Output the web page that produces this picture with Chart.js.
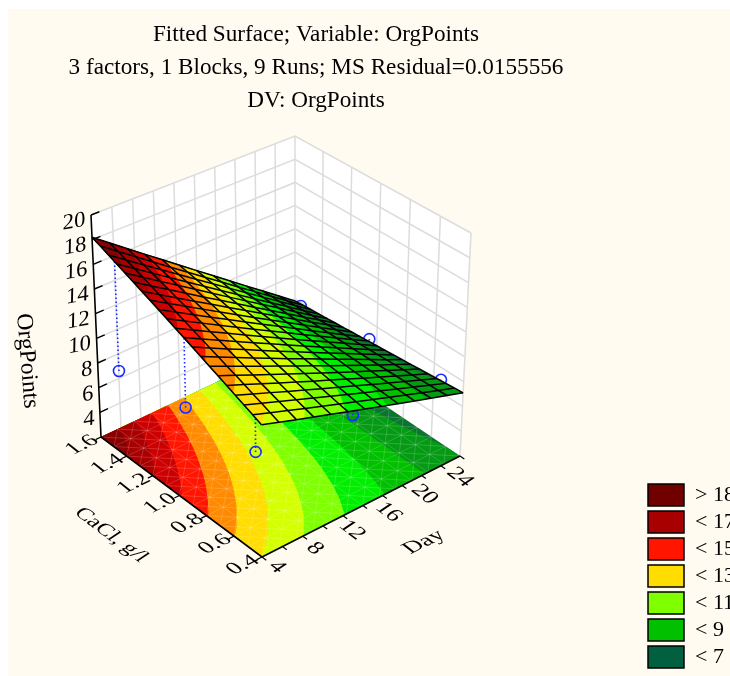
<!DOCTYPE html>
<html>
<head>
<meta charset="utf-8">
<title>Fitted Surface</title>
<script src="https://cdn.jsdelivr.net/npm/chart.js@4"></script>
<style>
    html, body { margin: 0; padding: 0; background: #fff; }
    canvas { display: block; }
</style>
</head>
<body>
<canvas id="surfaceChart" width="730" height="676"></canvas>
<script>
const titleLines = ['Fitted Surface; Variable: OrgPoints', '3 factors, 1 Blocks, 9 Runs; MS Residual=0.0155556', 'DV: OrgPoints'];

const dayValues = [4, 5.667, 7.333, 9, 10.667, 12.333, 14, 15.667, 17.333, 19, 20.667, 22.333, 24];
const caclValues = [0.4, 0.46, 0.52, 0.58, 0.64, 0.7, 0.76, 0.82, 0.88, 0.94, 1.0, 1.06, 1.12, 1.18, 1.24, 1.3, 1.36, 1.42, 1.48, 1.54, 1.6];

// one row per CaCl value, one column per Day value
const surfaceValues = [
    [12.00, 11.59, 11.18, 10.78, 10.37, 9.96, 9.55, 9.14, 8.73, 8.33, 7.92, 7.51, 7.10],
    [12.31, 11.87, 11.43, 10.99, 10.55, 10.11, 9.67, 9.23, 8.79, 8.35, 7.91, 7.47, 7.04],
    [12.62, 12.15, 11.68, 11.21, 10.74, 10.27, 9.80, 9.32, 8.85, 8.38, 7.91, 7.44, 6.97],
    [12.93, 12.43, 11.93, 11.42, 10.92, 10.42, 9.92, 9.42, 8.91, 8.41, 7.91, 7.41, 6.91],
    [13.24, 12.71, 12.17, 11.64, 11.11, 10.57, 10.04, 9.51, 8.97, 8.44, 7.91, 7.37, 6.84],
    [13.55, 12.99, 12.42, 11.86, 11.29, 10.73, 10.16, 9.60, 9.03, 8.47, 7.90, 7.34, 6.78],
    [13.86, 13.26, 12.67, 12.07, 11.48, 10.88, 10.29, 9.69, 9.09, 8.50, 7.90, 7.31, 6.71],
    [14.17, 13.54, 12.92, 12.29, 11.66, 11.03, 10.41, 9.78, 9.15, 8.53, 7.90, 7.27, 6.65],
    [14.48, 13.82, 13.16, 12.51, 11.85, 11.19, 10.53, 9.87, 9.21, 8.56, 7.90, 7.24, 6.58],
    [14.79, 14.10, 13.41, 12.72, 12.03, 11.34, 10.65, 9.96, 9.27, 8.58, 7.89, 7.21, 6.52],
    [15.10, 14.38, 13.66, 12.94, 12.22, 11.50, 10.78, 10.05, 9.33, 8.61, 7.89, 7.17, 6.45],
    [15.41, 14.66, 13.91, 13.15, 12.40, 11.65, 10.90, 10.15, 9.39, 8.64, 7.89, 7.14, 6.39],
    [15.72, 14.94, 14.15, 13.37, 12.59, 11.80, 11.02, 10.24, 9.45, 8.67, 7.89, 7.10, 6.32],
    [16.03, 15.22, 14.40, 13.59, 12.77, 11.96, 11.14, 10.33, 9.51, 8.70, 7.88, 7.07, 6.26],
    [16.34, 15.49, 14.65, 13.80, 12.96, 12.11, 11.27, 10.42, 9.57, 8.73, 7.88, 7.04, 6.19],
    [16.65, 15.77, 14.90, 14.02, 13.14, 12.27, 11.39, 10.51, 9.63, 8.76, 7.88, 7.00, 6.13],
    [16.96, 16.05, 15.14, 14.24, 13.33, 12.42, 11.51, 10.60, 9.69, 8.79, 7.88, 6.97, 6.06],
    [17.27, 16.33, 15.39, 14.45, 13.51, 12.57, 11.63, 10.69, 9.75, 8.81, 7.87, 6.93, 6.00],
    [17.58, 16.61, 15.64, 14.67, 13.70, 12.73, 11.76, 10.78, 9.81, 8.84, 7.87, 6.90, 5.93],
    [17.89, 16.89, 15.89, 14.88, 13.88, 12.88, 11.88, 10.88, 9.87, 8.87, 7.87, 6.87, 5.87],
    [18.20, 17.17, 16.13, 15.10, 14.07, 13.03, 12.00, 10.97, 9.93, 8.90, 7.87, 6.83, 5.80]
];

// observed runs
const runDay = [4.8, 4.8, 4.8, 14.3, 14, 14, 23.2, 23.2, 23.2];
const runCacl = [1.5, 1.0, 0.5, 0.5, 1.0, 1.5, 0.5, 1.0, 1.5];
const runValue = [7.8, 8.6, 8.9, 8.2, 8.0, 8.0, 7.7, 7.3, 6.4];
const runFitted = [17.1, 14.7, 12.2, 9.3, 9.7, 10.0, 7.05, 6.75, 6.3];

const zTicks = [4, 6, 8, 10, 12, 14, 16, 18, 20];
const dayTicks = [4, 6, 8, 10, 12, 14, 16, 18, 20, 22, 24];
const dayLabels = [4, 8, 12, 16, 20, 24];
const caclTicks = [0.4, 0.6, 0.8, 1.0, 1.2, 1.4, 1.6];

const bandLevels = [7, 8, 9, 10, 11, 12, 13, 14, 15, 16, 17, 18];
const bandColors = ['#0b7530', '#049a14', '#00c000', '#00ee00', '#7fff00', '#d4ff00', '#ffdd00', '#ff8a00', '#ff1500', '#cc0000', '#a80000', '#8a0000', '#700000'];

const legendLabels = ['> 18', '< 17', '< 15', '< 13', '< 11', '< 9', '< 7'];
const legendColors = ['#700000', '#a80000', '#ff1500', '#ffdd00', '#7fff00', '#00c000', '#006040'];

const Z_FLOOR = 2;
const Z_TOP = 20;
const SERIF = '"Liberation Serif", "Times New Roman", serif';

// box corners on the page, order: (day min, cacl min), (day max, cacl min), (day max, cacl max), (day min, cacl max)
const floorCorners = [[262, 557], [460, 456], [295, 345], [101, 437]];
const topCorners = [[261, 319], [471, 233], [295, 136], [91, 215]];

function planeMap(c) {
    const dx1 = c[1][0] - c[2][0], dx2 = c[3][0] - c[2][0], sx = c[0][0] - c[1][0] + c[2][0] - c[3][0];
    const dy1 = c[1][1] - c[2][1], dy2 = c[3][1] - c[2][1], sy = c[0][1] - c[1][1] + c[2][1] - c[3][1];
    const det = dx1 * dy2 - dx2 * dy1;
    const g = (sx * dy2 - dx2 * sy) / det;
    const h = (dx1 * sy - sx * dy1) / det;
    const a = c[1][0] - c[0][0] + g * c[1][0], b = c[3][0] - c[0][0] + h * c[3][0];
    const d = c[1][1] - c[0][1] + g * c[1][1], e = c[3][1] - c[0][1] + h * c[3][1];
    return function (u, v) {
        const w = g * u + h * v + 1;
        return [(a * u + b * v + c[0][0]) / w, (d * u + e * v + c[0][1]) / w];
    };
}

const floorMap = planeMap(floorCorners);
const topMap = planeMap(topCorners);

function project(day, cacl, z) {
    const u = (day - 4) / 20;
    const v = (cacl - 0.4) / 1.2;
    const t = (z - Z_FLOOR) / (Z_TOP - Z_FLOOR);
    const lo = floorMap(u, v);
    const hi = topMap(u, v);
    return { x: lo[0] + (hi[0] - lo[0]) * t, y: lo[1] + (hi[1] - lo[1]) * t };
}

const layers = [];

function addShape(points, color) {
    const closed = points.concat([points[0]]);
    layers.push({ data: closed, showLine: true, fill: 'shape', backgroundColor: color, borderWidth: 0, pointRadius: 0, tension: 0 });
}

function addLine(points, color, width, dash) {
    layers.push({ data: points, showLine: true, fill: false, borderColor: color, borderWidth: width, borderDash: dash || [], pointRadius: 0, tension: 0 });
}

// region of the surface at or above a level, day falls off monotonically along each row
function levelRegion(level, heightAt) {
    const last = dayValues.length - 1;
    const edge = [];
    let firstRow = -1;
    for (let j = 0; j < caclValues.length; j++) {
        const row = surfaceValues[j];
        if (row[0] < level) continue;
        if (firstRow < 0) {
            firstRow = j;
            if (j > 0) {
                const prev = surfaceValues[j - 1][0];
                const c = caclValues[j - 1] + (caclValues[j] - caclValues[j - 1]) * (level - prev) / (row[0] - prev);
                edge.push(project(4, c, heightAt(level)));
            }
        }
        let i = 0;
        while (i < last && row[i + 1] >= level) i++;
        if (i === last) {
            edge.push(project(dayValues[last], caclValues[j], heightAt(row[last])));
        } else {
            const d = dayValues[i] + (dayValues[i + 1] - dayValues[i]) * (row[i] - level) / (row[i] - row[i + 1]);
            edge.push(project(d, caclValues[j], heightAt(level)));
        }
    }
    if (firstRow < 0) return null;
    for (let j = caclValues.length - 1; j >= firstRow; j--) {
        edge.push(project(dayValues[0], caclValues[j], heightAt(surfaceValues[j][0])));
    }
    return edge;
}

function addBands(heightAt) {
    const last = dayValues.length - 1;
    const s = surfaceValues;
    const n = caclValues.length - 1;
    addShape([
        project(dayValues[0], caclValues[0], heightAt(s[0][0])),
        project(dayValues[last], caclValues[0], heightAt(s[0][last])),
        project(dayValues[last], caclValues[n], heightAt(s[n][last])),
        project(dayValues[0], caclValues[n], heightAt(s[n][0]))
    ], bandColors[0]);
    bandLevels.forEach((level, k) => {
        const region = levelRegion(level, heightAt);
        if (region) addShape(region, bandColors[k + 1]);
    });
}

// walls
const wallGrid = '#dcdcdc';
addShape([project(4, 1.6, Z_FLOOR), project(24, 1.6, Z_FLOOR), project(24, 1.6, Z_TOP), project(4, 1.6, Z_TOP)], '#ffffff');
addShape([project(24, 1.6, Z_FLOOR), project(24, 0.4, Z_FLOOR), project(24, 0.4, Z_TOP), project(24, 1.6, Z_TOP)], '#ffffff');
zTicks.forEach(z => addLine([project(4, 1.6, z), project(24, 1.6, z), project(24, 0.4, z)], wallGrid, 1.5));
dayTicks.slice(1).forEach(d => addLine([project(d, 1.6, Z_FLOOR), project(d, 1.6, Z_TOP)], wallGrid, 1.5));
caclTicks.slice(0, -1).forEach(c => addLine([project(24, c, Z_FLOOR), project(24, c, Z_TOP)], wallGrid, 1.5));

// floor with the contour bands
addBands(() => Z_FLOOR);

// faint triangulation on the floor
const FLOOR_CELLS = 12;
const floorPoint = (i, j) => project(4 + 20 * i / FLOOR_CELLS, 0.4 + 1.2 * j / FLOOR_CELLS, Z_FLOOR);
const seam = 'rgba(255,255,255,0.17)';
for (let k = 1; k < FLOOR_CELLS; k++) {
    addLine([floorPoint(k, 0), floorPoint(k, FLOOR_CELLS)], seam, 1);
    addLine([floorPoint(0, k), floorPoint(FLOOR_CELLS, k)], seam, 1);
}
for (let k = 1 - FLOOR_CELLS; k < FLOOR_CELLS; k++) {
    addLine([floorPoint(Math.max(k, 0), Math.max(-k, 0)), floorPoint(Math.min(FLOOR_CELLS + k, FLOOR_CELLS), Math.min(FLOOR_CELLS - k, FLOOR_CELLS))], seam, 1);
    const s = k + FLOOR_CELLS;
    addLine([floorPoint(Math.min(s, FLOOR_CELLS), Math.max(s - FLOOR_CELLS, 0)), floorPoint(Math.max(s - FLOOR_CELLS, 0), Math.min(s, FLOOR_CELLS))], seam, 1);
}

// axes
const axisBlack = '#000000';
addLine([project(4, 1.6, Z_TOP), project(4, 1.6, Z_FLOOR), project(4, 0.4, Z_FLOOR), project(24, 0.4, Z_FLOOR)], axisBlack, 1.6);
zTicks.forEach(z => addLine([project(4, 1.6, z), project(4.8, 1.6, z)], axisBlack, 1.4));
dayTicks.forEach(d => addLine([project(d, 0.4, Z_FLOOR), project(d, 0.37, Z_FLOOR)], axisBlack, 1.2));
caclTicks.forEach(c => addLine([project(4, c, Z_FLOOR), project(3.5, c, Z_FLOOR)], axisBlack, 1.2));

// observed runs and their drop lines, these sit under the surface
const runBlue = '#1a2cff';
runDay.forEach((d, i) => {
    addLine([project(d, runCacl[i], runValue[i]), project(d, runCacl[i], runFitted[i])], runBlue, 1.6, [1.5, 2.5]);
});
layers.push({
    data: runDay.map((d, i) => project(d, runCacl[i], runValue[i])),
    showLine: false,
    pointStyle: 'circle',
    pointRadius: 5.5,
    pointBorderWidth: 1.6,
    pointBorderColor: runBlue,
    pointBackgroundColor: 'rgba(0,0,0,0)'
});

// fitted surface and its mesh
addBands(z => z);
dayValues.forEach((d, i) => {
    addLine(caclValues.map((c, j) => project(d, c, surfaceValues[j][i])), axisBlack, 1.5);
});
caclValues.forEach((c, j) => {
    addLine(dayValues.map((d, i) => project(d, c, surfaceValues[j][i])), axisBlack, 1.5);
});

function skewText(ctx, chart, text, at, dx, dy, e1, up, font) {
    const x = chart.scales.x.getPixelForValue(at.x) + dx;
    const y = chart.scales.y.getPixelForValue(at.y) + dy;
    ctx.save();
    ctx.transform(e1[0], e1[1], -up[0], -up[1], x, y);
    ctx.font = font;
    ctx.fillStyle = '#000';
    ctx.textAlign = 'center';
    ctx.textBaseline = 'middle';
    ctx.fillText(text, 0, 0);
    ctx.restore();
}

const pagePlugin = {
    id: 'page',
    afterLayout(chart) {
        // the title centres over the plot box, not over the page
        chart.titleBlock.left = 0;
        chart.titleBlock.right = 632;
    },
    beforeDraw(chart) {
        const ctx = chart.ctx;
        ctx.save();
        ctx.fillStyle = '#fffbf1';
        ctx.fillRect(8, 9, chart.width - 8, chart.height - 9);
        ctx.restore();
    },
    afterDatasetsDraw(chart) {
        const ctx = chart.ctx;
        const zFont = '23px ' + SERIF;
        const floorFont = '24px ' + SERIF;
        const alongCacl = [0.8, 0.6];
        const alongDay = [0.9, -0.44];
        const acrossDay = [0.75, -0.5];
        const acrossCacl = [-0.7, -0.55];
        zTicks.forEach(z => {
            const w = String(z).length > 1 ? 12 : 6;
            skewText(ctx, chart, String(z), project(4, 1.6, z), -5 - w, 7, [0.98, -0.17], [0.02, -0.97], zFont);
        });
        caclTicks.forEach(c => {
            skewText(ctx, chart, c.toFixed(1), project(4, c, Z_FLOOR), -19, 8, alongDay, acrossCacl, floorFont);
        });
        dayLabels.forEach(d => {
            const u = (d - 4) / 20;
            skewText(ctx, chart, String(d), project(d, 0.4, Z_FLOOR), 15 - 15 * u, 10 + 11 * u, alongCacl, acrossDay, floorFont);
        });
        skewText(ctx, chart, 'CaCl, g/l', { x: 111, y: 535 }, 0, 0, alongCacl, acrossDay, '23px ' + SERIF);
        skewText(ctx, chart, 'Day', { x: 424, y: 542 }, 0, 0, alongDay, acrossCacl, floorFont);
        skewText(ctx, chart, 'OrgPoints', { x: 27, y: 361 }, 0, 0, [0.08, 1], [1, -0.08], '23.5px ' + SERIF);
    }
};

const chart = new Chart(document.getElementById('surfaceChart'), {
    type: 'scatter',
    data: { datasets: layers.slice().reverse() },
    plugins: [pagePlugin],
    options: {
        responsive: false,
        animation: false,
        events: [],
        layout: { padding: { bottom: 3 } },
        scales: {
            x: { type: 'linear', display: false, min: 0, max: 640 },
            y: { type: 'linear', display: false, reverse: true, min: 130, max: 673 }
        },
        plugins: {
            tooltip: { enabled: false },
            title: {
                display: true,
                fullSize: false,
                text: titleLines,
                color: '#000',
                font: { family: SERIF, size: 23.2, weight: 'normal', lineHeight: '33px' },
                padding: { top: 18, bottom: 13 }
            },
            legend: {
                display: true,
                position: 'right',
                align: 'end',
                maxWidth: 87,
                labels: {
                    color: '#000',
                    font: { family: SERIF, size: 22 },
                    boxWidth: 36,
                    boxHeight: 22,
                    padding: 5,
                    generateLabels: () => legendLabels.map((text, i) => ({
                        text: text,
                        fillStyle: legendColors[i],
                        strokeStyle: '#000',
                        lineWidth: 1.5,
                        hidden: false,
                        datasetIndex: i
                    }))
                }
            }
        }
    }
});

// page pixels are the data units of the two hidden scales
const area = chart.chartArea;
chart.options.scales.x.min = area.left;
chart.options.scales.x.max = area.right;
chart.options.scales.y.min = area.top;
chart.options.scales.y.max = area.bottom;
chart.update();
</script>
</body>
</html>
